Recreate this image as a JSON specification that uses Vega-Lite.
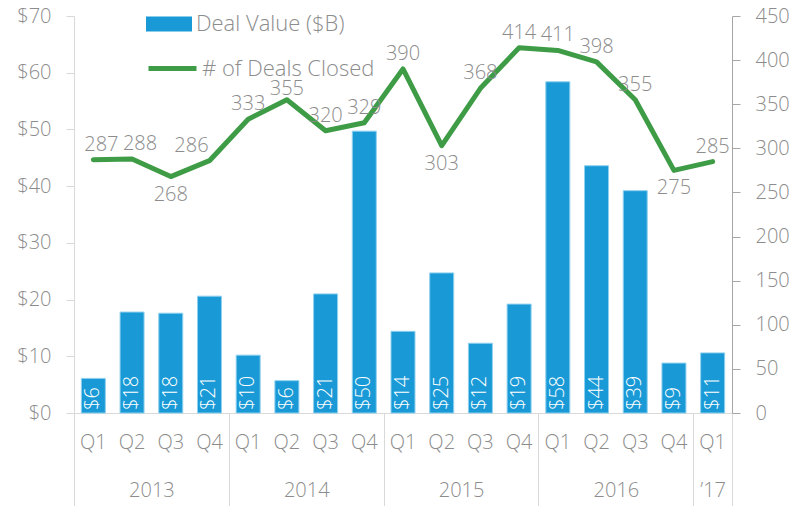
{
  "$schema": "https://vega.github.io/schema/vega-lite/v6.json",
  "width": 658,
  "height": 397,
  "autosize": {"type": "none"},
  "padding": {"left": 74, "top": 16, "right": 80, "bottom": 93},
  "config": {
    "font": "Open Sans",
    "view": {"stroke": null},
    "axis": {"labelColor": "#8c8c8c", "labelFontSize": 20, "labelFontWeight": 300, "grid": false, "title": null},
    "legend": {"labelColor": "#8c8c8c", "labelFontSize": 22, "labelFontWeight": 300, "labelLimit": 400}
  },
  "data": {
    "values": [
      {"period": "2013 Q1", "value": 6.1, "deals": 287},
      {"period": "2013 Q2", "value": 17.8, "deals": 288},
      {"period": "2013 Q3", "value": 17.6, "deals": 268},
      {"period": "2013 Q4", "value": 20.6, "deals": 286},
      {"period": "2014 Q1", "value": 10.2, "deals": 333},
      {"period": "2014 Q2", "value": 5.7, "deals": 355},
      {"period": "2014 Q3", "value": 21.0, "deals": 320},
      {"period": "2014 Q4", "value": 49.7, "deals": 329},
      {"period": "2015 Q1", "value": 14.4, "deals": 390},
      {"period": "2015 Q2", "value": 24.7, "deals": 303},
      {"period": "2015 Q3", "value": 12.3, "deals": 368},
      {"period": "2015 Q4", "value": 19.2, "deals": 414},
      {"period": "2016 Q1", "value": 58.4, "deals": 411},
      {"period": "2016 Q2", "value": 43.6, "deals": 398},
      {"period": "2016 Q3", "value": 39.2, "deals": 355},
      {"period": "2016 Q4", "value": 8.8, "deals": 275},
      {"period": "2017 Q1", "value": 10.6, "deals": 285}
    ]
  },
  "layer": [
    {
      "encoding": {
        "x": {
          "field": "period", "type": "nominal", "sort": null,
          "scale": {"paddingInner": 0.38, "paddingOuter": 0.19},
          "axis": {
            "orient": "bottom",
            "labelExpr": "split(datum.value, ' ')[1]", "labelAngle": 0,
            "ticks": false, "tickSize": 0, "labelPadding": 19,
            "domainColor": "#d9d9d9", "domainWidth": 1
          }
        }
      },
      "layer": [
        {
          "layer": [
            {
              "mark": {"type": "bar", "stroke": "#8fd0ef", "strokeWidth": 1},
              "encoding": {
                "y": {
                  "field": "value", "type": "quantitative",
                  "scale": {"domain": [0, 70], "nice": false},
                  "axis": {
                    "orient": "left",
                    "values": [0, 10, 20, 30, 40, 50, 60, 70], "format": "$.0f",
                    "domainColor": "#d9d9d9", "tickColor": "#d9d9d9", "tickSize": 8, "labelPadding": 15
                  }
                },
                "fill": {
                  "datum": "Deal Value ($B)", "type": "nominal",
                  "scale": {"range": ["#199ad6"]},
                  "legend": {
                    "orient": "none", "legendX": 72, "legendY": -15, "title": null,
                    "symbolType": "M-1,-0.33H1V0.33H-1Z", "symbolSize": 2116,
                    "symbolStrokeWidth": 0, "labelOffset": 4, "padding": 0
                  }
                }
              }
            },
            {
              "mark": {"type": "text", "angle": 270, "align": "left", "baseline": "middle", "dx": 3, "color": "white", "fontSize": 20, "fontWeight": 300},
              "encoding": {
                "y": {"datum": 0, "type": "quantitative"},
                "text": {"field": "value", "type": "quantitative", "format": "$.0f"}
              }
            }
          ]
        },
        {
          "layer": [
            {
              "mark": {"type": "line", "strokeWidth": 5, "strokeJoin": "round", "strokeCap": "round"},
              "encoding": {
                "y": {
                  "field": "deals", "type": "quantitative",
                  "scale": {"domain": [0, 450], "nice": false},
                  "axis": {
                    "orient": "right", "values": [0, 50, 100, 150, 200, 250, 300, 350, 400, 450],
                    "domainColor": "#a6a6a6", "tickColor": "#a6a6a6", "tickSize": 8, "labelPadding": 15
                  }
                },
                "stroke": {
                  "datum": "# of Deals Closed", "type": "nominal",
                  "scale": {"range": ["#3f9c46"]},
                  "legend": {
                    "orient": "none", "legendX": 72, "legendY": 26, "title": null,
                    "symbolType": "stroke", "symbolSize": 2304, "symbolStrokeWidth": 5,
                    "labelOffset": 3, "padding": 0
                  }
                }
              }
            },
            {
              "transform": [{"filter": "indexof(['2013 Q1', '2013 Q2', '2013 Q3', '2013 Q4', '2014 Q2', '2015 Q2', '2016 Q4'], datum.period) < 0"}],
              "mark": {"type": "text", "dy": -15, "color": "#8c8c8c", "fontSize": 20, "fontWeight": 300},
              "encoding": {
                "y": {"field": "deals", "type": "quantitative"},
                "text": {"field": "deals", "type": "quantitative"}
              }
            },
            {
              "transform": [{"filter": "datum.period == '2013 Q1' || datum.period == '2013 Q2'"}],
              "mark": {"type": "text", "dy": -15, "dx": 8, "color": "#8c8c8c", "fontSize": 20, "fontWeight": 300},
              "encoding": {
                "y": {"field": "deals", "type": "quantitative"},
                "text": {"field": "deals", "type": "quantitative"}
              }
            },
            {
              "transform": [{"filter": "datum.period == '2014 Q2'"}],
              "mark": {"type": "text", "dy": -11, "color": "#8c8c8c", "fontSize": 20, "fontWeight": 300},
              "encoding": {
                "y": {"field": "deals", "type": "quantitative"},
                "text": {"field": "deals", "type": "quantitative"}
              }
            },
            {
              "transform": [{"filter": "datum.period == '2013 Q4'"}],
              "mark": {"type": "text", "dy": -15, "dx": -18, "color": "#8c8c8c", "fontSize": 20, "fontWeight": 300},
              "encoding": {
                "y": {"field": "deals", "type": "quantitative"},
                "text": {"field": "deals", "type": "quantitative"}
              }
            },
            {
              "transform": [{"filter": "indexof(['2013 Q3', '2015 Q2', '2016 Q4'], datum.period) >= 0"}],
              "mark": {"type": "text", "dy": 18, "color": "#8c8c8c", "fontSize": 20, "fontWeight": 300},
              "encoding": {
                "y": {"field": "deals", "type": "quantitative"},
                "text": {"field": "deals", "type": "quantitative"}
              }
            }
          ]
        }
      ],
      "resolve": {"scale": {"y": "independent"}}
    },
    {
      "data": {"values": [{"b": 0}, {"b": 17}]},
      "mark": {"type": "rule", "strokeOpacity": 0},
      "encoding": {
        "x": {
          "field": "b", "type": "quantitative",
          "scale": {"domain": [0, 17], "nice": false, "zero": false},
          "axis": {
            "orient": "bottom",
            "values": [0, 4, 8, 12, 16, 17], "labels": false, "domain": false,
            "ticks": true, "tickSize": 93, "tickColor": "#d9d9d9"
          }
        }
      }
    },
    {
      "data": {"values": [{"b": 0}, {"b": 17}]},
      "mark": {"type": "rule", "strokeOpacity": 0},
      "encoding": {
        "x": {
          "field": "b", "type": "quantitative",
          "scale": {"domain": [0, 17], "nice": false, "zero": false},
          "axis": {
            "orient": "bottom",
            "values": [2, 6, 10, 14, 16.5], "domain": false, "ticks": false, "tickSize": 0,
            "labelPadding": 67, "labelOverlap": false, "labelFlush": false,
            "labelExpr": "datum.value == 2 ? '2013' : datum.value == 6 ? '2014' : datum.value == 10 ? '2015' : datum.value == 14 ? '2016' : '\u201917'"
          }
        }
      }
    }
  ],
  "resolve": {"scale": {"x": "independent", "y": "independent"}}
}
